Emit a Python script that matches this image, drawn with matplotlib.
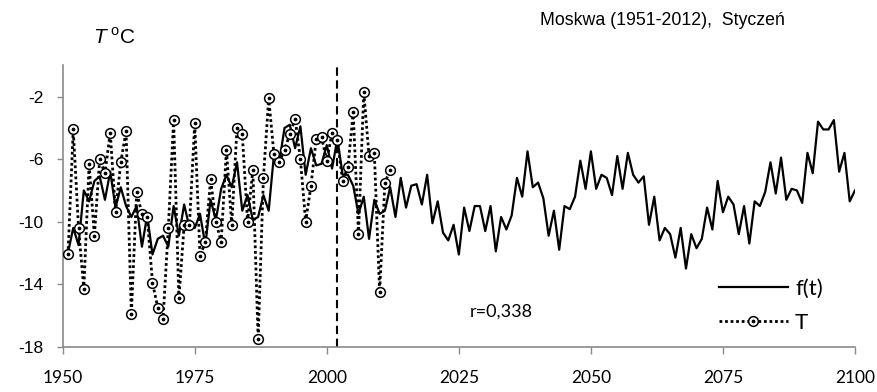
"""Moskwa, January temperature: observed T (1951-2012) and model f(t) to 2100."""

import matplotlib
matplotlib.use("Agg")
import matplotlib.pyplot as plt
import numpy as np
from matplotlib.legend_handler import HandlerTuple

plt.rcParams["axes.unicode_minus"] = False

AXIS_GREY = "#8a8a8a"
BLACK = "#000000"

# observed January mean temperature, 1951-2012
T_YEARS = np.arange(1951, 2013)
T_VALUES = [
    -12.1, -4.1, -10.4, -14.3, -6.3, -10.9, -6.0, -6.9, -4.3, -9.4,
    -6.2, -4.2, -15.9, -8.1, -9.5, -9.7, -13.9, -15.5, -16.2, -10.4,
    -3.5, -14.9, -10.2, -10.2, -3.7, -12.2, -11.3, -7.3, -10.0, -11.3,
    -5.4, -10.2, -4.0, -4.4, -10.0, -6.7, -17.5, -7.2, -2.1, -5.7,
    -6.2, -5.4, -4.4, -3.4, -6.0, -10.0, -7.7, -4.7, -4.6, -6.1,
    -4.3, -4.8, -7.4, -6.5, -3.0, -10.8, -1.7, -5.8, -5.6, -14.5,
    -7.5, -6.7,
]

# model f(t), 1951-2100
F_YEARS = np.arange(1951, 2101)
F_VALUES = [
    -12.0, -10.4, -11.5, -8.0, -8.7, -7.4, -7.1, -8.6, -6.8, -9.1,
    -7.8, -9.0, -9.7, -9.0, -11.6, -9.6, -12.1, -11.1, -10.9, -11.6,
    -9.0, -10.9, -8.9, -10.4, -10.4, -9.5, -11.5, -8.6, -9.9, -7.9,
    -7.0, -7.8, -6.2, -9.3, -8.3, -9.9, -9.7, -8.3, -9.3, -5.7,
    -6.2, -4.0, -3.8, -5.3, -3.9, -7.0, -5.3, -6.4, -6.3, -5.1,
    -6.6, -4.7, -7.0, -7.0, -7.7, -9.5, -8.4, -11.1, -8.6, -9.5,
    -9.3, -7.8, -9.7, -7.2, -9.1, -7.7, -7.6, -8.9, -7.0, -10.1,
    -8.7, -10.7, -11.2, -10.2, -12.1, -9.1, -10.6, -9.0, -9.0, -10.6,
    -9.0, -11.9, -9.7, -10.5, -9.6, -7.2, -8.4, -5.5, -7.8, -7.5,
    -8.5, -10.9, -9.3, -11.8, -9.0, -9.2, -8.4, -6.1, -7.9, -5.5,
    -7.9, -7.0, -7.2, -8.3, -5.8, -7.9, -5.6, -7.0, -7.5, -7.1,
    -10.2, -8.4, -11.2, -10.4, -10.8, -12.3, -10.4, -13.0, -10.8, -11.7,
    -11.1, -9.1, -10.5, -7.4, -9.4, -8.4, -8.9, -10.8, -9.0, -11.4,
    -8.7, -9.0, -8.1, -6.2, -8.2, -5.9, -8.6, -7.9, -8.0, -8.8,
    -5.6, -6.9, -3.6, -4.1, -4.1, -3.5, -6.8, -5.6, -8.7, -8.0,
]

SPLIT_YEAR = 2002
X_TICKS = [1950, 1975, 2000, 2025, 2050, 2075, 2100]
Y_TICKS = [-18, -14, -10, -6, -2]

fig = plt.figure(figsize=(8.78, 3.92), dpi=100)
ax = fig.add_axes([0.0714, 0.1156, 0.9024, 0.7176])

f_line, = ax.plot(F_YEARS, F_VALUES, color=BLACK, lw=1.6, zorder=3)
t_line, = ax.plot(
    T_YEARS, T_VALUES, color=BLACK, lw=2.0, ls=(0, (1, 1)),
    marker="o", ms=7, mfc="white", mec=BLACK, mew=1.1, zorder=4,
)
t_dot, = ax.plot(T_YEARS, T_VALUES, ls="none", marker="o", ms=1.7,
                 color=BLACK, zorder=5)
ax.axvline(SPLIT_YEAR, color=BLACK, lw=1.5, ls=(0, (4, 2.2)), zorder=2)

ax.set_xlim(1950, 2100)
ax.set_ylim(-18, 0)
ax.set_xticks(X_TICKS)
ax.set_yticks(Y_TICKS)
ax.set_xticklabels([str(x) for x in X_TICKS], fontfamily="Lato", fontsize=12.5)
ax.set_yticklabels([str(y) for y in Y_TICKS], fontfamily="Liberation Sans",
                   fontsize=12.5)
ax.tick_params(axis="x", direction="out", length=5, width=1, color=AXIS_GREY,
               pad=12)
ax.tick_params(axis="y", direction="out", length=4, width=1, color=AXIS_GREY,
               pad=10)

for spine in ("top", "right"):
    ax.spines[spine].set_visible(False)
for spine in ("left", "bottom"):
    ax.spines[spine].set_color(AXIS_GREY)
    ax.spines[spine].set_linewidth(1.2)

ax.text(0.514, 0.123, "r=0,338", transform=ax.transAxes, fontfamily="Lato",
        fontsize=13, ha="left", va="center")

leg = ax.legend(
    [f_line, (t_line, t_dot)], ["f(t)", "T"],
    handler_map={tuple: HandlerTuple(ndivide=1)},
    loc="lower right", bbox_to_anchor=(0.979, -0.005), frameon=False,
    prop={"family": "Lato", "size": 16}, handlelength=3.1, handletextpad=0.32,
    labelspacing=0.62, borderaxespad=0.3,
)

fig.text(0.615, 0.948, "Moskwa (1951-2012),  Styczeń", fontfamily="Liberation Sans",
         fontsize=12.8, ha="left", va="center")
fig.text(0.106, 0.905, "T", fontfamily="Liberation Sans", fontstyle="italic",
         fontsize=15, ha="left", va="center")
fig.text(0.126, 0.92, "o", fontfamily="Liberation Sans", fontsize=10.5,
         ha="left", va="center")
fig.text(0.137, 0.905, "C", fontfamily="Liberation Sans", fontsize=15,
         ha="left", va="center")

fig.savefig("out.png", dpi=100)
